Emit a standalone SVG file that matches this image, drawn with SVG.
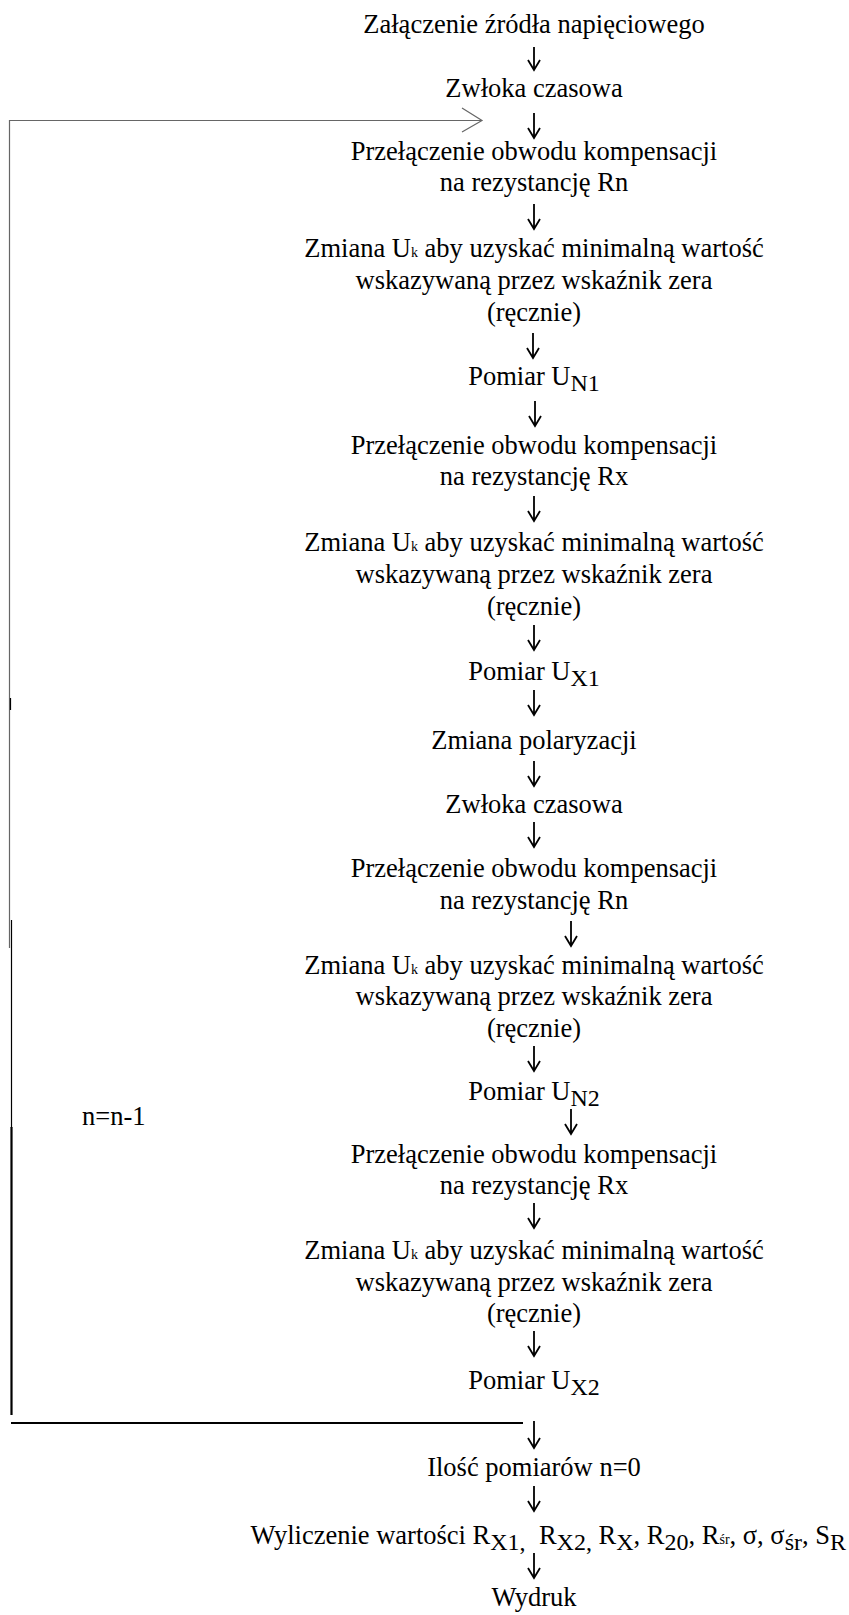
<svg xmlns="http://www.w3.org/2000/svg" width="849" height="1615" viewBox="0 0 849 1615">
<defs>
<style>
text{font-family:"Liberation Serif","Times New Roman","DejaVu Serif",serif;font-size:26.5px;fill:#000}
.c{text-anchor:middle}
.e{text-anchor:end}
.sub{font-size:24px}
.sm{font-size:14px}
.arr{fill:none;stroke:#000;stroke-width:1.8}
.loopg{fill:none;stroke:#666;stroke-width:1.2}
.loopb{fill:none;stroke:#000;stroke-width:1.2}
.loopt{fill:none;stroke:#000;stroke-width:2.2}
</style>
</defs>
<rect width="849" height="1615" fill="#fff"/>
<g id="connectors">
<path class="arr" d="M534 47V70M528 60L534 70L540 60"/>
<path class="arr" d="M534 113V138M528 128L534 138L540 128"/>
<path class="arr" d="M534 204V229M528 219L534 229L540 219"/>
<path class="arr" d="M533 333V358M527 348L533 358L539 348"/>
<path class="arr" d="M535 401V426M529 416L535 426L541 416"/>
<path class="arr" d="M534 496V521M528 511L534 521L540 511"/>
<path class="arr" d="M534 625V650M528 640L534 650L540 640"/>
<path class="arr" d="M534 690V715M528 705L534 715L540 705"/>
<path class="arr" d="M534 761V786M528 776L534 786L540 776"/>
<path class="arr" d="M534 822V847M528 837L534 847L540 837"/>
<path class="arr" d="M571 921V946M565 936L571 946L577 936"/>
<path class="arr" d="M534 1046V1071M528 1061L534 1071L540 1061"/>
<path class="arr" d="M571 1109V1134M565 1124L571 1134L577 1124"/>
<path class="arr" d="M534 1203V1228M528 1218L534 1228L540 1218"/>
<path class="arr" d="M534 1331V1356M528 1346L534 1356L540 1346"/>
<path class="arr" d="M534 1421V1448M528 1438L534 1448L540 1438"/>
<path class="arr" d="M534 1486V1511M528 1501L534 1511L540 1501"/>
<path class="arr" d="M534 1553V1578M528 1568L534 1578L540 1568"/>
<g id="loop">
<path class="loopg" d="M9.5 948V120.5H482M462 108L482 120.5L462 132"/>
<path class="loopb" d="M10.5 698V710"/>
<path class="loopb" d="M11.5 920V1128"/>
<path class="loopt" d="M11.5 1127V1415M11 1423H523"/>
</g>
</g>
<g id="n1"><text class="c" x="534" y="33">Załączenie źródła napięciowego</text></g>
<g id="n2"><text class="c" x="534" y="97">Zwłoka czasowa</text></g>
<g id="n3"><text class="c" x="534" y="160">Przełączenie obwodu kompensacji</text><text class="c" x="534" y="191">na rezystancję Rn</text></g>
<g id="n4"><text class="c" x="534" y="257">Zmiana U<tspan class="sm">k</tspan> aby uzyskać minimalną wartość</text><text class="c" x="534" y="289">wskazywaną przez wskaźnik zera</text><text class="c" x="534" y="321">(ręcznie)</text></g>
<g id="n5"><text class="c" x="534" y="385">Pomiar U<tspan class="sub" dy="6">N1</tspan></text></g>
<g id="n6"><text class="c" x="534" y="454">Przełączenie obwodu kompensacji</text><text class="c" x="534" y="485">na rezystancję Rx</text></g>
<g id="n7"><text class="c" x="534" y="551">Zmiana U<tspan class="sm">k</tspan> aby uzyskać minimalną wartość</text><text class="c" x="534" y="583">wskazywaną przez wskaźnik zera</text><text class="c" x="534" y="615">(ręcznie)</text></g>
<g id="n8"><text class="c" x="534" y="680">Pomiar U<tspan class="sub" dy="6">X1</tspan></text></g>
<g id="n9"><text class="c" x="534" y="749">Zmiana polaryzacji</text></g>
<g id="n10"><text class="c" x="534" y="813">Zwłoka czasowa</text></g>
<g id="n11"><text class="c" x="534" y="877">Przełączenie obwodu kompensacji</text><text class="c" x="534" y="909">na rezystancję Rn</text></g>
<g id="n12"><text class="c" x="534" y="974">Zmiana U<tspan class="sm">k</tspan> aby uzyskać minimalną wartość</text><text class="c" x="534" y="1005">wskazywaną przez wskaźnik zera</text><text class="c" x="534" y="1037">(ręcznie)</text></g>
<g id="n13"><text class="c" x="534" y="1100">Pomiar U<tspan class="sub" dy="6">N2</tspan></text></g>
<g id="n14"><text class="c" x="534" y="1163">Przełączenie obwodu kompensacji</text><text class="c" x="534" y="1194">na rezystancję Rx</text></g>
<g id="n15"><text class="c" x="534" y="1259">Zmiana U<tspan class="sm">k</tspan> aby uzyskać minimalną wartość</text><text class="c" x="534" y="1291">wskazywaną przez wskaźnik zera</text><text class="c" x="534" y="1322">(ręcznie)</text></g>
<g id="n16"><text class="c" x="534" y="1389">Pomiar U<tspan class="sub" dy="6">X2</tspan></text></g>
<g id="n17"><text class="c" x="534" y="1476">Ilość pomiarów n=0</text></g>
<g id="n18"><text class="e" x="846" y="1544" xml:space="preserve">Wyliczenie wartości R<tspan class="sub" dy="6">X1,</tspan><tspan dy="-6">  R</tspan><tspan class="sub" dy="6">X2,</tspan><tspan dy="-6"> R</tspan><tspan class="sub" dy="6">X</tspan><tspan dy="-6">, R</tspan><tspan class="sub" dy="6">20</tspan><tspan dy="-6">, R</tspan><tspan class="sm">śr</tspan><tspan>, σ, σ</tspan><tspan class="sub" dy="6">śr</tspan><tspan dy="-6">, S</tspan><tspan class="sub" dy="6">R</tspan></text></g>
<g id="n19"><text class="c" x="534" y="1606">Wydruk</text></g>
<g id="label"><text x="82" y="1125">n=n-1</text></g>
</svg>
